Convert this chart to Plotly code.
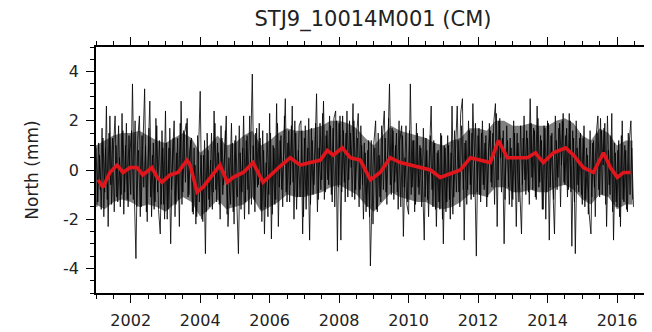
import numpy as np
import plotly.graph_objects as go

# ---------------- data ----------------
title_text = "STJ9_10014M001 (CM)"
y_label = "North (mm)"

start_year = 2001.0
step_year = 0.05

# daily scatter, sampled every 0.05 yr (first sample set)
north_2001 = [0.9, -1.3, 0.6, -1.6, 1.3, -0.9, 2.6, -2.3, 2.2, -1.4, 0.8, 2.2, -1.1, 1.8, -1.5, 2.3, -1.8, 1.0, -1.2, 1.4]
north_2002 = [-1.0, 3.5, -0.8, -3.6, 1.2, 2.2, -1.5, 0.7, 3.3, -1.7, 0.4, 2.8, -1.9, 1.1, -1.3, 1.8, -1.6, -2.6, 1.6, -1.4]
north_2003 = [2.4, -2.0, 0.9, -3.0, 0.5, 2.0, -1.4, 1.3, -2.3, 2.8, -0.9, 1.5, 1.9, -1.1, 0.8, 1.3, -1.8, 0.2, -1.9, 1.0]
north_2004 = [3.2, -2.0, 0.6, -3.4, 1.5, -1.2, 0.4, -1.6, 2.4, -0.8, 1.1, -1.4, 1.8, -1.0, 0.9, 2.2, -2.3, -0.6, 1.9, -1.7]
north_2005 = [1.2, -1.5, -3.4, 0.7, -0.9, 2.2, -1.3, 1.4, -1.8, 0.6, 3.9, -1.2, 1.5, -0.7, 1.9, -1.6, 1.6, -2.6, 0.3, -1.9]
north_2006 = [2.3, -2.8, 1.0, -1.4, 2.7, -2.3, 1.2, -0.8, 0.6, 2.9, -1.3, 1.6, -0.6, 2.6, -2.0, 1.5, -1.1, 1.8, 2.0, -2.6]
north_2007 = [1.3, -1.6, 0.9, -2.85, 1.7, -1.0, 0.5, 3.1, -1.2, 1.9, -0.4, 2.8, -0.9, 1.6, -0.6, 1.8, -1.3, 2.1, 2.4, -3.3]
north_2008 = [1.9, -2.85, 2.2, -0.5, 1.5, -1.1, 2.0, 0.1, 2.7, -1.2, 1.4, 2.3, -0.8, 1.0, -2.0, 0.7, -1.5, 1.2, -3.9, -0.9]
north_2009 = [1.1, 2.0, -1.7, 0.6, -1.3, 1.4, 2.4, -0.9, 0.8, 3.5, -1.0, 1.6, -0.5, 1.5, -1.6, 1.2, 1.8, -2.7, 0.5, -1.4]
north_2010 = [-1.8, 3.5, -0.7, 1.2, -1.4, 1.5, -1.0, 0.9, -0.4, -2.85, 1.3, -1.2, 0.4, 2.6, -1.5, 1.1, -2.3, 0.8, -1.6, 1.4]
north_2011 = [-3.0, 0.9, -1.3, 1.0, -2.0, 2.6, -1.1, 0.7, 2.6, -0.9, 2.3, 2.9, -2.85, 1.2, -0.8, 1.6, -1.2, 2.7, 0.3, -3.5]
north_2012 = [1.4, -1.0, 1.5, -0.6, 1.1, -1.5, 0.8, 1.6, -0.7, 1.9, 2.7, -2.3, 2.0, 0.5, 1.3, -3.0, 0.6, 1.2, -1.4, 0.9]
north_2013 = [-1.2, 1.5, -2.3, 1.1, -0.6, -2.6, 1.3, -0.4, 1.6, -0.9, 2.9, -0.3, 1.7, -1.1, 2.6, -0.7, 1.4, -1.6, 1.8, -2.0]
north_2014 = [2.0, -2.85, 1.4, -0.5, -2.6, 1.2, -0.3, 1.9, 0.2, 2.3, -0.6, 1.7, -0.8, 2.0, -3.1, 1.3, -3.4, 0.9, -0.9, 1.5]
north_2015 = [-1.4, 1.8, -1.2, 0.6, -1.8, -2.6, 1.1, -0.7, 1.4, 2.2, -1.1, 1.6, 0.2, 1.9, -2.3, 0.8, -1.0, 2.3, -2.85, 0.7]
north_2016 = [-1.5, 1.2, -2.3, 2.0, -1.3, 0.8, -1.7, 1.1, 2.0, -1.2]

# second sample set, offset by 0.025 yr
north_b_2001 = [-1.5, 1.1, -0.8, 1.7, -1.9, 0.9, -1.2, 1.5, -0.6, 1.3, -1.7, 1.0, -1.3, 0.5, -1.0, 1.6, -0.9, 1.9, -1.5, 0.7]
north_b_2002 = [1.6, -1.2, 2.0, -1.5, 0.8, -1.9, 1.4, -0.7, 1.0, -2.1, 1.7, -1.1, 0.6, -1.6, 2.1, -0.9, 1.2, -1.4, 0.9, -2.0]
north_b_2003 = [1.1, -1.6, 1.7, -0.8, 1.3, -1.9, 0.7, -1.2, 1.9, -1.4, 1.6, -0.5, 2.1, -1.0, 1.2, -1.7, 0.9, -2.2, 1.4, -1.3]
north_b_2004 = [0.6, -2.1, 1.2, -1.7, 0.8, -1.5, 1.5, -0.9, 1.9, -1.3, 0.7, -2.0, 1.3, -0.6, 1.6, -1.8, 0.5, -1.4, 1.1, -2.2]
north_b_2005 = [1.4, -1.1, 1.8, -1.6, 0.9, -2.0, 1.2, -0.8, 2.2, -1.4, 1.0, -1.7, 1.7, -0.6, 1.3, -2.1, 0.8, -1.5, 1.5, -1.0]
north_b_2006 = [1.5, -1.8, 0.9, -1.2, 1.9, -0.7, 1.4, -1.5, 2.2, -0.9, 1.1, -1.3, 1.8, -0.5, 2.0, -1.6, 0.8, -1.1, 1.6, -1.9]
north_b_2007 = [1.8, -1.0, 2.1, -1.4, 1.2, -0.6, 1.9, -1.7, 0.9, -0.8, 2.3, -1.2, 1.4, -0.4, 2.2, -1.0, 1.7, -1.5, 2.0, -0.7]
north_b_2008 = [2.2, -0.9, 1.6, -1.3, 2.4, -0.4, 1.5, -1.1, 2.0, -0.8, 1.3, -1.5, 1.8, -0.6, 1.1, -1.7, 0.8, -1.9, 1.2, -2.2]
north_b_2009 = [0.9, -1.6, 1.5, -1.1, 1.8, -0.8, 1.3, -1.4, 2.1, -0.6, 1.7, -1.2, 1.0, -0.9, 2.0, -1.5, 1.4, -0.7, 1.8, -1.3]
north_b_2010 = [1.6, -1.0, 1.2, -1.7, 1.9, -0.7, 1.0, -1.5, 1.7, -1.1, 0.8, -1.9, 1.4, -0.8, 1.2, -1.6, 0.7, -1.3, 1.5, -2.0]
north_b_2011 = [1.0, -1.7, 1.4, -1.2, 0.7, -1.8, 1.6, -0.9, 1.2, -1.5, 1.8, -0.8, 1.1, -1.4, 2.0, -0.6, 1.5, -1.1, 1.9, -0.9]
north_b_2012 = [1.7, -1.3, 2.0, -0.8, 1.4, -1.1, 1.9, -0.5, 1.5, -1.4, 2.3, -0.4, 2.1, -0.9, 1.6, -1.2, 1.8, -0.7, 1.3, -1.5]
north_b_2013 = [2.0, -0.9, 1.5, -1.3, 1.8, -0.6, 2.2, -1.0, 1.3, -1.4, 1.9, -0.8, 1.6, -1.2, 2.1, -0.5, 1.2, -1.6, 1.7, -0.9]
north_b_2014 = [1.9, -0.7, 1.5, -1.2, 2.2, -0.8, 1.7, -1.5, 2.0, -0.5, 1.4, -1.1, 2.3, -0.9, 1.6, -1.3, 2.0, -0.6, 1.3, -1.0]
north_b_2015 = [1.3, -1.5, 0.9, -1.8, 1.6, -1.1, 1.2, -1.9, 1.5, -0.8, 2.1, -1.0, 1.7, -1.4, 2.2, -0.6, 1.4, -1.7, 1.1, -1.3]
north_b_2016 = [0.8, -1.9, 1.4, -1.2, 1.0, -1.6, 1.5, -1.0, 0.9, -1.5]

# dense core of the daily scatter (read every quarter year)
band_t = [2001.0, 2001.25, 2001.5, 2001.75, 2002.0, 2002.25, 2002.5, 2002.75, 2003.0, 2003.25,
          2003.5, 2003.75, 2004.0, 2004.25, 2004.5, 2004.75, 2005.0, 2005.25, 2005.5, 2005.75,
          2006.0, 2006.25, 2006.5, 2006.75, 2007.0, 2007.25, 2007.5, 2007.75, 2008.0, 2008.25,
          2008.5, 2008.75, 2009.0, 2009.25, 2009.5, 2009.75, 2010.0, 2010.25, 2010.5, 2010.75,
          2011.0, 2011.25, 2011.5, 2011.75, 2012.0, 2012.25, 2012.5, 2012.75, 2013.0, 2013.25,
          2013.5, 2013.75, 2014.0, 2014.25, 2014.5, 2014.75, 2015.0, 2015.25, 2015.5, 2015.75,
          2016.0, 2016.25, 2016.45]
band_hi = [1.0, 1.2, 1.4, 1.5, 1.5, 1.6, 1.4, 1.2, 1.1, 1.3,
           1.5, 1.3, 0.7, 1.0, 1.4, 1.0, 1.1, 1.4, 1.6, 1.0,
           1.2, 1.5, 1.7, 1.6, 1.6, 1.7, 1.8, 2.0, 2.0, 1.9,
           1.7, 1.3, 1.0, 1.4, 1.8, 1.6, 1.5, 1.4, 1.3, 1.1,
           1.0, 1.2, 1.3, 1.7, 1.7, 1.6, 2.0, 2.0, 1.8, 1.8,
           1.9, 1.8, 1.8, 2.0, 2.1, 1.9, 1.4, 1.2, 1.7, 1.5,
           1.0, 1.2, 1.2]
band_lo = [-1.4, -1.6, -1.3, -1.2, -1.3, -1.5, -1.4, -1.5, -1.7, -1.4,
           -1.1, -1.3, -1.9, -1.6, -1.2, -1.6, -1.5, -1.4, -1.1, -1.7,
           -1.5, -1.3, -1.0, -1.1, -1.1, -1.0, -0.9, -0.7, -0.6, -0.8,
           -1.0, -1.4, -1.7, -1.3, -0.9, -1.1, -1.2, -1.3, -1.3, -1.5,
           -1.6, -1.5, -1.3, -1.0, -1.0, -1.1, -0.7, -0.7, -0.9, -0.9,
           -0.8, -0.9, -0.9, -0.7, -0.6, -0.8, -1.2, -1.4, -1.0, -1.1,
           -1.6, -1.4, -1.4]

# smoothed series (red)
smooth_t = [2001.06, 2001.20, 2001.40, 2001.61, 2001.78, 2001.98, 2002.18, 2002.35, 2002.61, 2002.76,
            2002.90, 2003.13, 2003.36, 2003.62, 2003.71, 2003.91, 2004.08, 2004.34, 2004.57, 2004.78,
            2004.95, 2005.24, 2005.52, 2005.81, 2006.10, 2006.30, 2006.59, 2006.88, 2007.17, 2007.46,
            2007.66, 2007.83, 2008.09, 2008.32, 2008.61, 2008.90, 2009.18, 2009.47, 2009.76, 2010.05,
            2010.34, 2010.63, 2010.91, 2011.20, 2011.49, 2011.78, 2012.07, 2012.35, 2012.59, 2012.84,
            2013.13, 2013.42, 2013.65, 2013.88, 2014.17, 2014.52, 2014.75, 2015.03, 2015.32, 2015.61,
            2015.81, 2016.01, 2016.19, 2016.39]
smooth_v = [-0.4, -0.7, -0.1, 0.2, -0.1, 0.1, 0.1, -0.2, 0.1, -0.3,
            -0.5, -0.2, -0.1, 0.4, 0.2, -0.9, -0.7, -0.2, 0.2, -0.5,
            -0.3, -0.1, 0.3, -0.5, -0.1, 0.15, 0.5, 0.2, 0.3, 0.4,
            0.8, 0.6, 0.9, 0.5, 0.4, -0.4, -0.1, 0.5, 0.3, 0.2,
            0.1, 0.0, -0.3, -0.15, 0.0, 0.5, 0.4, 0.3, 1.2, 0.5,
            0.5, 0.5, 0.7, 0.3, 0.7, 0.9, 0.6, 0.1, -0.1, 0.7,
            0.1, -0.3, -0.1, -0.1]

x_tick_vals = [2002, 2004, 2006, 2008, 2010, 2012, 2014, 2016]
y_tick_vals = [-4, -2, 0, 2, 4]

# ---------------- build ----------------
north = (north_2001 + north_2002 + north_2003 + north_2004 + north_2005 + north_2006 +
         north_2007 + north_2008 + north_2009 + north_2010 + north_2011 + north_2012 +
         north_2013 + north_2014 + north_2015 + north_2016)
north_t = start_year + step_year * np.arange(len(north))

north_b = (north_b_2001 + north_b_2002 + north_b_2003 + north_b_2004 + north_b_2005 + north_b_2006 +
           north_b_2007 + north_b_2008 + north_b_2009 + north_b_2010 + north_b_2011 + north_b_2012 +
           north_b_2013 + north_b_2014 + north_b_2015 + north_b_2016)
north_b_t = start_year + step_year / 2 + step_year * np.arange(len(north_b))

FONT = "DejaVu Sans"
TXT = "#222222"

fig = go.Figure()
fig.add_trace(go.Scatter(x=band_t, y=band_lo, mode="lines", line=dict(width=0, color="rgba(0,0,0,0)"),
                         showlegend=False, hoverinfo="skip"))
fig.add_trace(go.Scatter(x=band_t, y=band_hi, mode="lines", line=dict(width=0, color="rgba(0,0,0,0)"),
                         fill="tonexty", fillcolor="rgba(0,0,0,0.5)",
                         showlegend=False, hoverinfo="skip"))
fig.add_trace(go.Scatter(x=north_b_t, y=north_b, mode="lines",
                         line=dict(color="rgba(0,0,0,0.85)", width=0.9),
                         showlegend=False, hoverinfo="skip"))
fig.add_trace(go.Scatter(x=north_t, y=north, mode="lines",
                         line=dict(color="rgba(0,0,0,0.9)", width=0.9),
                         showlegend=False, hoverinfo="skip"))
fig.add_trace(go.Scatter(x=smooth_t, y=smooth_v, mode="lines",
                         line=dict(color="#e0161c", width=3.6),
                         showlegend=False, hoverinfo="skip"))

# the page body keeps an 8 px margin, so the figure is sized/offset to compensate
fig.update_layout(
    width=644, height=324,
    margin=dict(l=88, r=2, t=39, b=39, autoexpand=False),
    paper_bgcolor="white", plot_bgcolor="white",
    font=dict(family=FONT, size=16, color=TXT),
    title=dict(text=title_text, xref="paper", x=0.5, xanchor="center", y=0.966, yanchor="middle",
               font=dict(family=FONT, size=21, color=TXT)),
    showlegend=False,
)
fig.update_xaxes(
    range=[2001.0, 2016.95], showgrid=False, zeroline=False,
    showline=True, linecolor="black", linewidth=1.5, mirror="ticks",
    ticks="outside", ticklen=8, tickwidth=1, tickcolor="black",
    tickvals=x_tick_vals, ticktext=[str(v) for v in x_tick_vals],
    tickfont=dict(family=FONT, size=16, color=TXT), ticklabelstandoff=4,
    minor=dict(dtick=0.5, tick0=2001, ticks="outside", ticklen=4, tickcolor="black", tickwidth=1, showgrid=False),
)
fig.update_yaxes(
    range=[-5, 5], showgrid=False, zeroline=False,
    showline=True, linecolor="black", linewidth=1.5, mirror="ticks",
    ticks="outside", ticklen=8, tickwidth=1, tickcolor="black",
    tickvals=y_tick_vals, ticktext=[str(v) for v in y_tick_vals],
    tickfont=dict(family=FONT, size=16, color=TXT), ticklabelstandoff=4,
    minor=dict(dtick=0.5, tick0=0, ticks="outside", ticklen=4, tickcolor="black", tickwidth=1, showgrid=False),
    title=dict(text=y_label, standoff=20, font=dict(family=FONT, size=17, color=TXT)),
)

fig.write_html("out.html")
